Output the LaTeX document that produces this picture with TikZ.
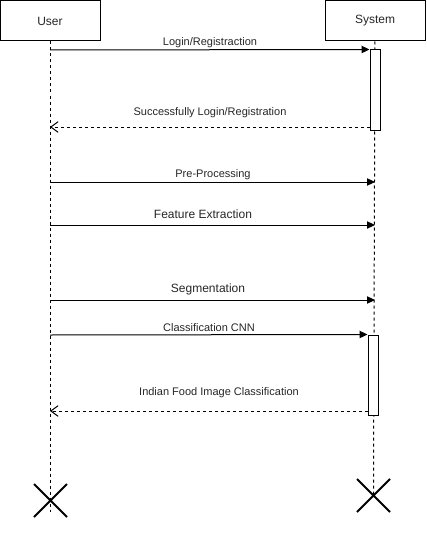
\documentclass[tikz,border=0pt]{standalone}
\usepackage{fontspec}
\setmainfont{Liberation Sans}
\usetikzlibrary{arrows.meta,positioning,shapes.misc}

\begin{document}
\begin{tikzpicture}[x=0.75pt,y=-0.75pt,
    actor box/.style={draw,line width=0.75pt,minimum width=75pt,minimum height=30pt,inner sep=0pt,font=\fontsize{9}{10}\selectfont,text=black!85},
    act box/.style={draw,fill=white,line width=0.75pt,minimum width=7.5pt,minimum height=60pt,inner sep=0pt},
    life line/.style={line width=0.75pt,dash pattern=on 2.25pt off 2.25pt},
    call/.style={line width=0.75pt,-{Triangle[length=6pt,width=5.5pt]}},
    reply/.style={life line,-{Straight Barb[length=5.5pt,width=8pt]}},
    msg label/.style={inner sep=0pt,text=black!85,yshift=-1.2pt},
    end cross/.style={cross out,draw,line width=1.5pt,minimum size=23.25pt,inner sep=0pt}]
\useasboundingbox (0,0) rectangle (426,560);

\node[actor box] (User) at (50,21) {User};
\node[actor box] (System) at (375,21) {System};

\node[end cross] (UserStop) at (50.5,500.5) {};
\node[end cross] (SystemStop) at (373.5,495.5) {};

\coordinate (UserEnd) at (50,512);
\draw[life line] (User) -- (UserEnd);
\draw[life line] (System) -- (SystemStop.center);

\node[act box] (Act1) at (375,90) {};
\node[act box] (Act2) at (373,375) {};

% login
\coordinate (u1) at (50,50);
\draw[call] (u1) -- (Act1.north west);
\node[msg label,font=\fontsize{8.25}{9}\selectfont] (Login) at (210,41) {Login/Registraction};

\coordinate (s2) at (370,127);
\coordinate (u2) at (50,127);
\draw[reply] (s2) -- (u2);
\node[msg label,font=\fontsize{8.25}{9}\selectfont] (LoginOk) at (210,111) {Successfully Login/Registration};

\foreach \y/\n/\txt/\ty/\tx/\fs in {182/3/Pre-Processing/173/213/8.25,
                                  225/4/Feature Extraction/213/203/9,
                                  300/5/Segmentation/288/208/9}
{\coordinate (u\n) at (50,\y);
 \coordinate (s\n) at (375,\y);
 \draw[call] (u\n) -- (s\n);
 \node[msg label,font=\fontsize{\fs}{10}\selectfont] (Label\n) at (\tx,\ty) {\txt};}

% classification
\coordinate (u6) at (50,335);
\draw[call] (u6) -- (Act2.north west);
\node[msg label,font=\fontsize{8.25}{9}\selectfont] (CNN) at (209,326) {Classification CNN};

\coordinate (s7) at (368,411);
\coordinate (u7) at (50,411);
\draw[reply] (s7) -- (u7);
\node[msg label,font=\fontsize{8.25}{9}\selectfont] (Result) at (219,391) {Indian Food Image Classification};

\end{tikzpicture}
\end{document}
